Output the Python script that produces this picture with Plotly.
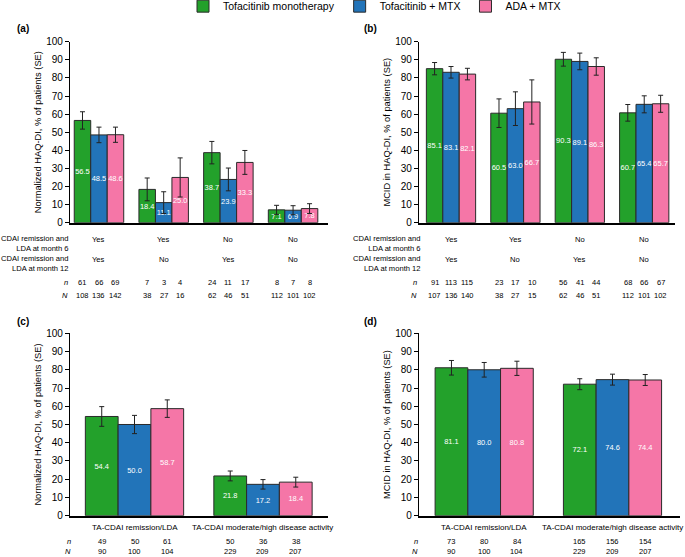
import plotly.graph_objects as go

W, H = 685, 557
FONT = "Liberation Sans, Arial, sans-serif"

series_names = ["Tofacitinib monotherapy", "Tofacitinib + MTX", "ADA + MTX"]
colors = ["#23A12B", "#2274B9", "#F576A7"]

# Panel (a): Normalized HAQ-DI by CDAI status
ab_month6 = ["Yes", "Yes", "No", "No"]
ab_month12 = ["Yes", "No", "Yes", "No"]
a_mono = [56.5, 18.4, 38.7, 7.1]
a_mono_se = [4.8, 6.3, 6.2, 2.5]
a_mtx = [48.5, 11.1, 23.9, 6.9]
a_mtx_se = [4.3, 6.0, 6.3, 2.5]
a_ada = [48.6, 25.0, 33.3, 7.8]
a_ada_se = [4.2, 10.8, 6.6, 2.7]
a_n = [[61, 7, 24, 8], [66, 3, 11, 7], [69, 4, 17, 8]]
a_N = [[108, 38, 62, 112], [136, 27, 46, 101], [142, 16, 51, 102]]

# Panel (b): MCID in HAQ-DI by CDAI status
b_mono = [85.1, 60.5, 90.3, 60.7]
b_mono_se = [3.4, 7.9, 3.8, 4.6]
b_mtx = [83.1, 63.0, 89.1, 65.4]
b_mtx_se = [3.2, 9.3, 4.6, 4.7]
b_ada = [82.1, 66.7, 86.3, 65.7]
b_ada_se = [3.2, 12.2, 4.8, 4.7]
b_n = [[91, 23, 56, 68], [113, 17, 41, 66], [115, 10, 44, 67]]
b_N = [[107, 38, 62, 112], [136, 27, 46, 101], [140, 15, 51, 102]]

# Panels (c), (d): by TA-CDAI
cd_categories = ["TA-CDAI remission/LDA", "TA-CDAI moderate/high disease activity"]
c_mono = [54.4, 21.8]
c_mono_se = [5.4, 2.7]
c_mtx = [50.0, 17.2]
c_mtx_se = [5.0, 2.6]
c_ada = [58.7, 18.4]
c_ada_se = [4.8, 2.7]
c_n = [[49, 50], [50, 36], [61, 38]]
c_N = [[90, 229], [100, 209], [104, 207]]

d_mono = [81.1, 72.1]
d_mono_se = [4.0, 3.0]
d_mtx = [80.0, 74.6]
d_mtx_se = [4.0, 3.0]
d_ada = [80.8, 74.4]
d_ada_se = [3.9, 3.0]
d_n = [[73, 165], [80, 156], [84, 154]]
d_N = [[90, 229], [100, 209], [104, 207]]

row_labels = ["CDAI remission and<br>LDA at month 6", "CDAI remission and<br>LDA at month 12"]
yticks = [0, 10, 20, 30, 40, 50, 60, 70, 80, 90, 100]
ytitle_norm = "Normalized HAQ-DI, % of patients (SE)"
ytitle_mcid = "MCID in HAQ-DI, % of patients (SE)"

BARGAP = 0.235
BW = (1 - BARGAP) / 3


def px(x):
    return x / W


def py(y):
    return 1 - y / H


fig = go.Figure()

panels = [
    ("x", "y", [a_mono, a_mtx, a_ada], [a_mono_se, a_mtx_se, a_ada_se], 4),
    ("x2", "y2", [b_mono, b_mtx, b_ada], [b_mono_se, b_mtx_se, b_ada_se], 4),
    ("x3", "y3", [c_mono, c_mtx, c_ada], [c_mono_se, c_mtx_se, c_ada_se], 2),
    ("x4", "y4", [d_mono, d_mtx, d_ada], [d_mono_se, d_mtx_se, d_ada_se], 2),
]

for pi, (xa, ya, vals, ses, ng) in enumerate(panels):
    for si in range(3):
        fig.add_trace(go.Bar(
            x=list(range(ng)), y=vals[si], name=series_names[si],
            xaxis=xa, yaxis=ya, showlegend=(pi == 0),
            offsetgroup=str(si),
            marker=dict(color=colors[si], line=dict(color="#2a2a2a", width=1)),
            error_y=dict(type="data", array=ses[si], color="#222222",
                         thickness=1, width=2.5),
            text=[f"{v:.1f}" for v in vals[si]],
            textposition="inside", insidetextanchor="middle", textangle=0,
            textfont=dict(color="white", size=7.5, family=FONT),
            constraintext="none", cliponaxis=False,
            hoverinfo="skip",
        ))

ax_common = dict(showgrid=False, zeroline=False, showticklabels=False,
                 ticks="", showline=True, linecolor="black", linewidth=1.5,
                 fixedrange=True)
ay_common = dict(range=[0, 100], tickvals=yticks, ticks="outside", ticklen=4,
                 tickwidth=1, tickcolor="black", showgrid=False, zeroline=False,
                 showline=True, linecolor="black", linewidth=1.2,
                 tickfont=dict(size=10, family=FONT, color="black"),
                 fixedrange=True)

ytop_ab, ybot_ab = 41.7, 222.7
ytop_cd, ybot_cd = 333.3, 515.7
TFONT = dict(size=9.3, family=FONT, color="black")

layout = dict(
    width=W, height=H, margin=dict(l=0, r=0, t=0, b=0, autoexpand=False),
    paper_bgcolor="white", plot_bgcolor="white",
    barmode="group", bargap=BARGAP, bargroupgap=0,
    uniformtext=dict(minsize=7, mode="show"),
    font=dict(family=FONT, color="black"),
    legend=dict(orientation="h", x=px(183), y=1.015, xanchor="left", yanchor="top",
                font=dict(size=10.5, family=FONT), traceorder="normal",
                itemclick=False, itemdoubleclick=False, bgcolor="rgba(0,0,0,0)"),
    xaxis=dict(domain=[px(70), px(328)], range=[-0.448, 3.54], anchor="y", **ax_common),
    yaxis=dict(domain=[py(ybot_ab), py(ytop_ab)], anchor="x",
               title=dict(text=ytitle_norm, font=TFONT, standoff=2),
               **ay_common),
    xaxis2=dict(domain=[px(419), px(675)], range=[-0.497, 3.478], anchor="y2", **ax_common),
    yaxis2=dict(domain=[py(ybot_ab), py(ytop_ab)], anchor="x2",
                title=dict(text=ytitle_mcid, font=TFONT, standoff=2),
                **ay_common),
    xaxis3=dict(domain=[px(70), px(328)], range=[-0.502, 1.506], anchor="y3", **ax_common),
    yaxis3=dict(domain=[py(ybot_cd), py(ytop_cd)], anchor="x3",
                title=dict(text=ytitle_norm, font=TFONT, standoff=2),
                **ay_common),
    xaxis4=dict(domain=[px(419), px(680)], range=[-0.508, 1.526], anchor="y4", **ax_common),
    yaxis4=dict(domain=[py(ybot_cd), py(ytop_cd)], anchor="x4",
                title=dict(text=ytitle_mcid, font=TFONT, standoff=2),
                **ay_common),
)
fig.update_layout(**layout)

ann = []


def add_text(text, x, y, xref="paper", size=7.6, xanchor="center", bold=False,
             yanchor="middle", align="center"):
    ann.append(dict(text=f"<b>{text}</b>" if bold else text, x=x, y=py(y),
                    xref=xref, yref="paper", showarrow=False,
                    xanchor=xanchor, yanchor=yanchor, borderpad=0, align=align,
                    font=dict(size=size, family=FONT, color="black")))


# panel labels
add_text("(a)", px(16), 29, size=10, xanchor="left", bold=True)
add_text("(b)", px(363), 29, size=10, xanchor="left", bold=True)
add_text("(c)", px(16), 321, size=10, xanchor="left", bold=True)
add_text("(d)", px(363), 321, size=10, xanchor="left", bold=True)

# rows for (a) and (b)
for xref, lab_x, nN_x, ns, Ns in [("x", 69.5, 69, a_n, a_N), ("x2", 421.5, 417.5, b_n, b_N)]:
    add_text(row_labels[0], px(lab_x), 243.6, xanchor="right", align="right")
    add_text(row_labels[1], px(lab_x), 263.6, xanchor="right", align="right")
    for g in range(4):
        add_text(ab_month6[g], g, 239.0, xref=xref)
        add_text(ab_month12[g], g, 259.0, xref=xref)
    add_text("<i>n</i>", px(nN_x), 282.7, size=7.5, xanchor="right")
    add_text("<i>N</i>", px(nN_x), 295.0, size=7.5, xanchor="right")
    for si in range(3):
        for g in range(4):
            xc = g + (si - 1) * BW
            add_text(str(ns[si][g]), xc, 282.7, xref=xref, size=7.5)
            add_text(str(Ns[si][g]), xc, 295.0, xref=xref, size=7.5)

# rows for (c) and (d)
for xref, nN_x, ns, Ns in [("x3", 72, c_n, c_N), ("x4", 419, d_n, d_N)]:
    for g in range(2):
        add_text(cd_categories[g], g, 527.3, xref=xref, size=8)
    add_text("<i>n</i>", px(nN_x), 541.2, size=7.5, xanchor="right")
    add_text("<i>N</i>", px(nN_x), 557, size=7.5, xanchor="right", yanchor="bottom")
    for si in range(3):
        for g in range(2):
            xc = g + (si - 1) * BW
            add_text(str(ns[si][g]), xc, 541.2, xref=xref, size=7.5)
            add_text(str(Ns[si][g]), xc, 557, xref=xref, size=7.5, yanchor="bottom")

fig.update_layout(annotations=ann)

fig.write_html("out.html", include_plotlyjs=True, config={"displayModeBar": False},
               post_script="document.body.style.margin='0';")
